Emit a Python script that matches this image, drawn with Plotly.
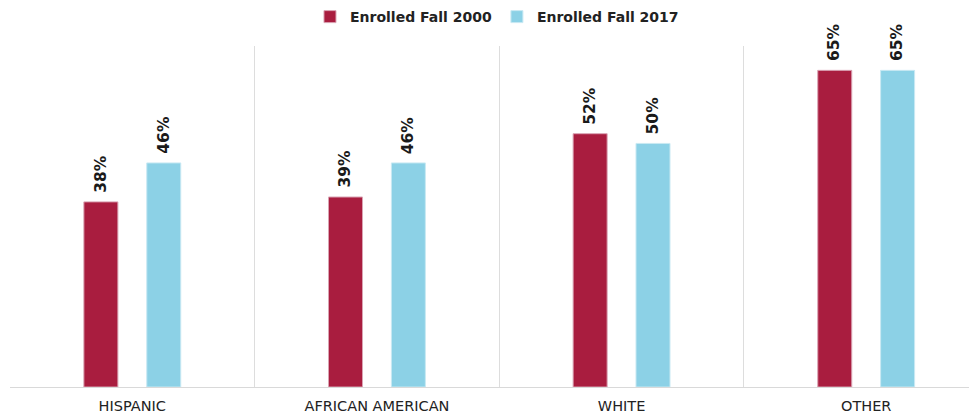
import plotly.graph_objects as go

categories = ["HISPANIC", "AFRICAN AMERICAN", "WHITE", "OTHER"]
series_names = ["Enrolled Fall 2000", "Enrolled Fall 2017"]
fall_2000 = [38, 39, 52, 65]
fall_2017 = [46, 46, 50, 65]
colors = ["#A91D3F", "#8CD1E6"]
line_colors = ["#D9A3B3", "#C9E9F3"]

fig = go.Figure()
bar_w = 0.139
offsets = [-0.198, 0.059]
for name, vals, c, lc, off in zip(series_names, [fall_2000, fall_2017], colors, line_colors, offsets):
    fig.add_trace(go.Bar(
        x=categories, y=vals, name=name,
        marker=dict(color=c, line=dict(color=lc, width=1)),
        width=bar_w, offset=off,
    ))
    for i, v in enumerate(vals):
        fig.add_annotation(
            x=i + off + bar_w / 2, y=v, text=f"{v}%", textangle=-90,
            showarrow=False, xanchor="center", yanchor="bottom", yshift=7,
            font=dict(family="DejaVu Sans", size=15.5, color="#1a1a1a", weight="bold"),
        )

fig.update_layout(
    width=969, height=407,
    margin=dict(l=2, r=0, t=38, b=28, autoexpand=False),
    plot_bgcolor="white", paper_bgcolor="white",
    barmode="overlay",
    font=dict(family="DejaVu Sans", color="#222222"),
    legend=dict(orientation="h", x=0.5036, xanchor="center", y=1.085, yanchor="middle",
                font=dict(size=14, weight="bold", color="#222222"),
                itemwidth=30, traceorder="normal"),
    showlegend=True,
)
fig.update_xaxes(
    type="category", range=[-0.5, 3.453], showgrid=True, gridcolor="#DDDDDD", gridwidth=1,
    tickson="boundaries", ticks="", showline=True, linecolor="#D9D9D9", linewidth=1,
    tickfont=dict(size=14.5, color="#222222"), ticklabelstandoff=6, fixedrange=True,
)
fig.update_yaxes(range=[0, 70], visible=False, showgrid=False, zeroline=False)

fig.write_html("out.html")
